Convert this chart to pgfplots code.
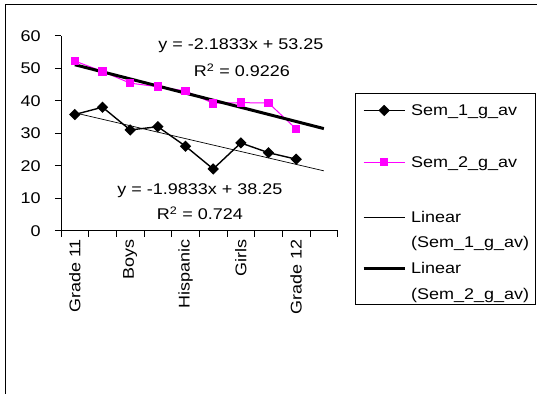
\documentclass[border=0pt]{standalone}
\usepackage{fontspec}
\setmainfont{Liberation Sans}[FakeStretch=1.16]
\usepackage{pgfplots}
\pgfplotsset{compat=1.18}
\definecolor{mag}{RGB}{255,0,255}
\begin{document}
\fontsize{15.5bp}{18.6bp}\selectfont
\begin{tikzpicture}
\path[use as bounding box] (0,0) rectangle (537bp,394bp);
\draw[line width=1bp] (5.7bp,0bp) -- (5.7bp,389.7bp) -- (537bp,389.7bp);
\begin{axis}[
  scale only axis, width=276.7bp, height=195bp,
  at={(61bp,163.3bp)}, anchor=south west,
  xmin=0.5, xmax=10.5, ymin=0, ymax=60,
  axis lines*=left,
  axis line style={line width=0.9bp},
  /pgf/number format/assume math mode=true,
  ytick={0,10,...,60},
  yticklabel style={xshift=-9bp},
  xticklabel shift=3bp,
  xtick={0.5,1.5,...,10.5}, xticklabels={},
  extra x ticks={1,3,5,7,9},
  extra x tick labels={Grade 11,Boys,Hispanic,Girls,Grade 12},
  extra x tick style={major tick length=0pt, tick label style={rotate=90, anchor=east}},
  tick align=outside, major tick length=6bp,
  tick style={black, line width=0.9bp},
  legend image code/.code={\draw[mark repeat=2,mark phase=2,#1] plot coordinates {(0bp,5bp) (20.5bp,5bp) (41bp,5bp)};},
  legend style={at={(1.0625,0.7046)}, anchor=north west, draw=black, line width=0.9bp,
    inner xsep=6.7bp, inner ysep=2bp,
    nodes={inner sep=0pt, text depth=, text height=},
    cells={anchor=base west},
    /tikz/every odd column/.append style={column sep=5bp}},
]
\addplot[black, line width=1.4bp, mark=square*, mark size=3.3bp, mark options={rotate=45, solid}]
  coordinates {(1,35.75) (2,38) (3,31) (4,32) (5,26) (6,19) (7,27) (8,24) (9,22)};
\addlegendentry{\rule[-39.7bp]{0pt}{59.4bp}Sem\_1\_g\_av}
\addplot[mag, line width=1bp, mark=square*, mark size=3.8bp]
  coordinates {(1,52.2) (2,49) (3,45.4) (4,44.3) (5,43) (6,39.2) (7,39.4) (8,39.3) (9,31.3)};
\addlegendentry{\rule[-43bp]{0pt}{55bp}Sem\_2\_g\_av}
\addplot[black, line width=0.7bp] coordinates {(1,36.2667) (10,18.4167)};
\addlegendentry{\vtop{\baselineskip=25.4bp \hbox{Linear\rule{0pt}{12bp}}\hbox{(Sem\_1\_g\_av)\rule[-14.2bp]{0pt}{14.2bp}}}}
\addplot[black, line width=3bp] coordinates {(1,51.0667) (10,31.4167)};
\addlegendentry{\vtop{\baselineskip=25.4bp \hbox{Linear\rule{0pt}{12bp}}\hbox{(Sem\_2\_g\_av)}}}
\node[anchor=base] at (axis cs:7.0,55.6) {y = -2.1833x + 53.25};
\node[anchor=base] at (axis cs:7.04,47.4) {R\textsuperscript{2} = 0.9226};
\node[anchor=base] at (axis cs:5.52,11.0) {y = -1.9833x + 38.25};
\node[anchor=base] at (axis cs:5.52,3.3) {R\textsuperscript{2} = 0.724};
\end{axis}
\end{tikzpicture}
\end{document}
